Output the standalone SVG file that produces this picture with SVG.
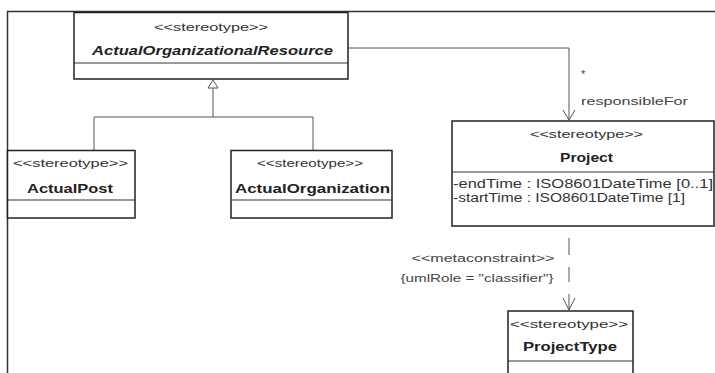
<svg xmlns="http://www.w3.org/2000/svg" width="715" height="373" viewBox="0 0 715 373">
<style>
text{font-family:"Liberation Sans",Arial,sans-serif;fill:#333}
.st{font-size:11px}
.nm{font-size:13px;font-weight:bold;fill:#222}
.box{fill:#fff;stroke:#222;stroke-width:1.5}
.div{stroke:#333;stroke-width:1.2}
.conn{fill:none;stroke:#555;stroke-width:1}
.lbl{font-size:11px;fill:#444}
.attr{font-size:12px;fill:#333}
</style>
<rect width="715" height="373" fill="#fff"/>
<path d="M7.5,373 V11.5 H715" fill="none" stroke="#333" stroke-width="1.5"/>
<g id="connectors">
<polygon points="213,80 208,88 218,88" fill="#fff" stroke="#555" stroke-width="1"/>
<path class="conn" d="M213,88 V117 M94,117 H313 M94,117 V150 M313,117 V150"/>
<path class="conn" d="M348,48 H569 V120"/>
<path class="conn" d="M563,110 L569,120 L575,110"/>
<path class="conn" d="M569,238 V255 M569,267 V282 M569,294 V310"/>
<path class="conn" d="M563,298 L569,310 L575,298"/>
<text class="lbl" x="581" y="78">*</text>
<text class="lbl" x="581" y="105" textLength="107" lengthAdjust="spacingAndGlyphs">responsibleFor</text>
<text class="lbl" x="483" y="262" text-anchor="middle" textLength="143" lengthAdjust="spacingAndGlyphs">&lt;&lt;metaconstraint&gt;&gt;</text>
<text class="lbl" x="477" y="282" text-anchor="middle" textLength="153" lengthAdjust="spacingAndGlyphs">{umlRole = "classifier"}</text>
</g>
<g id="ActualOrganizationalResource">
<rect class="box" x="74" y="12.5" width="274" height="66.5" stroke-width="2"/>
<line class="div" x1="74" y1="63" x2="348" y2="63" stroke-width="1.8"/>
<text class="st" x="211" y="31" text-anchor="middle" textLength="114" lengthAdjust="spacingAndGlyphs">&lt;&lt;stereotype&gt;&gt;</text>
<text class="nm" x="212.5" y="55" text-anchor="middle" font-style="italic" textLength="241" lengthAdjust="spacingAndGlyphs">ActualOrganizationalResource</text>
</g>
<g id="ActualPost">
<rect class="box" x="7.5" y="150.5" width="127.5" height="67.5"/>
<line class="div" x1="7.5" y1="200" x2="135" y2="200"/>
<text class="st" x="70.5" y="167" text-anchor="middle" textLength="115" lengthAdjust="spacingAndGlyphs">&lt;&lt;stereotype&gt;&gt;</text>
<text class="nm" x="70" y="193" text-anchor="middle" textLength="86" lengthAdjust="spacingAndGlyphs">ActualPost</text>
</g>
<g id="ActualOrganization">
<rect class="box" x="231" y="150.5" width="161" height="67.5"/>
<line class="div" x1="231" y1="200" x2="392" y2="200"/>
<text class="st" x="310" y="167" text-anchor="middle" textLength="106" lengthAdjust="spacingAndGlyphs">&lt;&lt;stereotype&gt;&gt;</text>
<text class="nm" x="312.5" y="193" text-anchor="middle" textLength="155" lengthAdjust="spacingAndGlyphs">ActualOrganization</text>
</g>
<g id="Project">
<rect class="box" x="452" y="121" width="262" height="105"/>
<line class="div" x1="452" y1="172" x2="714" y2="172"/>
<text class="st" x="586.5" y="138" text-anchor="middle" textLength="113" lengthAdjust="spacingAndGlyphs">&lt;&lt;stereotype&gt;&gt;</text>
<text class="nm" x="586.5" y="162" text-anchor="middle" textLength="53" lengthAdjust="spacingAndGlyphs">Project</text>
<text class="attr" x="453" y="188" textLength="260" lengthAdjust="spacingAndGlyphs">-endTime : ISO8601DateTime [0..1]</text>
<text class="attr" x="453" y="202" textLength="232" lengthAdjust="spacingAndGlyphs">-startTime : ISO8601DateTime [1]</text>
</g>
<g id="ProjectType">
<rect class="box" x="508" y="311" width="125" height="70"/>
<line class="div" x1="508" y1="361" x2="633" y2="361"/>
<text class="st" x="569" y="328" text-anchor="middle" textLength="118" lengthAdjust="spacingAndGlyphs">&lt;&lt;stereotype&gt;&gt;</text>
<text class="nm" x="570" y="351" text-anchor="middle" textLength="94" lengthAdjust="spacingAndGlyphs">ProjectType</text>
</g>
</svg>
